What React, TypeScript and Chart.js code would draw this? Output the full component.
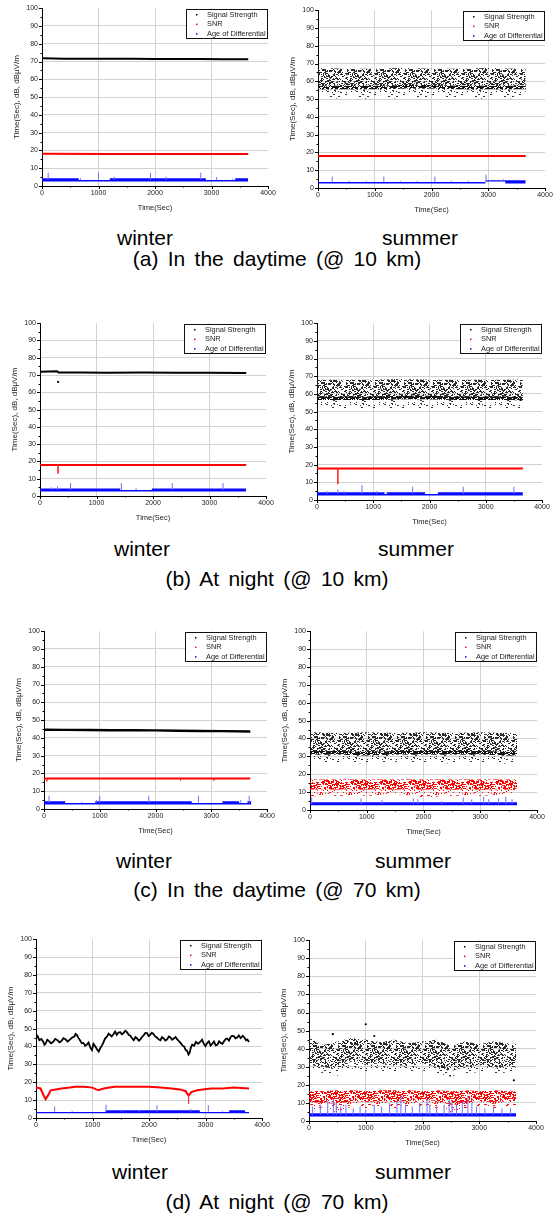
import React, { useEffect, useRef } from 'react';
import { Chart, registerables } from 'chart.js';
Chart.register(...registerables);

const FONT = '"Liberation Sans", Arial, Helvetica, sans-serif';

// ---------- text ----------
const xTitle = 'Time(Sec)';
const yTitle = 'Time(Sec), dB, dBμV/m';
const legendLabels = ['Signal Strength', 'SNR', 'Age of Differential'];
const legendColors = ['#000000', '#ff0000', '#0000ff'];
const seasonLabels = ['winter', 'summer'];
const rowCaptions = [
  '(a) In the daytime (@ 10 km)',
  '(b) At night (@ 10 km)',
  '(c) In the daytime (@ 70 km)',
  '(d) At night (@ 70 km)',
];
const xMin = 0, xMax = 4000, xStep = 1000;
const yMin = 0, yMax = 100, yStep = 10;

// ---------- (a) daytime @10 km, winter ----------
const aWinterSigT = [0, 400, 800, 1200, 1600, 2000, 2400, 2800, 3200, 3650];
const aWinterSigV = [71.9, 71.6, 71.5, 71.5, 71.5, 71.4, 71.4, 71.4, 71.3, 71.3];
const aWinterSnrT = [0, 1200, 2400, 3650];
const aWinterSnrV = [18.1, 18, 18, 18];
const aWinterAgeT = [0, 650, 650, 1200, 1200, 2900, 2900, 3420, 3420, 3650];
const aWinterAgeHi = [4.4, 4.4, 3.4, 3.4, 4.4, 4.4, 3.4, 3.4, 4.4, 4.4];
const aWinterAgeLo = [2.6, 2.6, 2.6, 2.6, 2.6, 2.6, 2.6, 2.6, 2.6, 2.6];
const aWinterSpikeT = [110, 680, 1000, 1280, 1920, 2190, 2810, 3090, 3380];
const aWinterSpikeTop = [7.5, 4.5, 7.5, 5.2, 7.3, 5.2, 7.5, 5, 4.2];

// ---------- (a) daytime @10 km, summer ----------
const aSummerSigT = [0, 500, 1000, 1500, 2000, 2500, 3000, 3500, 3660];
const aSummerSigHi = [67.5, 67, 67, 67.5, 67, 67, 67.5, 67, 67];
const aSummerSigCore = [57.5, 57.5, 57.5, 58, 58, 57.5, 57.5, 57.5, 57.5];
const aSummerSigLo = [55.5, 55.5, 55.5, 56, 56, 55.5, 55.5, 55.5, 55.5];
const aSummerSigSparse = [50, 50.5, 50, 50.5, 51, 50.5, 50, 50.5, 50];
const aSummerSnrT = [0, 1200, 2400, 3660];
const aSummerSnrV = [18, 18, 18, 18];
const aSummerAgeT = [0, 2950, 2950, 3300, 3300, 3660];
const aSummerAgeHi = [3.4, 3.4, 4.4, 4.4, 4.4, 4.4];
const aSummerAgeLo = [2.6, 2.6, 3.6, 3.6, 2.6, 2.6];
const aSummerSpikeT = [250, 550, 850, 1160, 1450, 1750, 2060, 2350, 2650, 2960, 3270];
const aSummerSpikeTop = [6.5, 4, 4, 6.5, 4, 4, 6.5, 4, 4, 7.5, 5];

// ---------- (b) night @10 km, winter ----------
const bWinterSigT = [0, 300, 330, 700, 1200, 1800, 2400, 3000, 3650];
const bWinterSigV = [71.9, 72.2, 71.4, 71.4, 71.3, 71.4, 71.3, 71.3, 71.2];
const bWinterSigOutT = [320];
const bWinterSigOutV = [66];
const bWinterSnrT = [0, 1200, 2400, 3650];
const bWinterSnrV = [18, 18, 18, 18];
const bWinterSnrDipT = [320];
const bWinterSnrDipFrom = [18];
const bWinterSnrDipTo = [13];
const bWinterAgeT = [0, 1420, 1420, 1980, 1980, 3650];
const bWinterAgeHi = [4.4, 4.4, 3.4, 3.4, 4.4, 4.4];
const bWinterAgeLo = [2.6, 2.6, 2.6, 2.6, 2.6, 2.6];
const bWinterSpikeT = [200, 310, 540, 1440, 1700, 2340, 3240];
const bWinterSpikeTop = [5, 5.5, 7.5, 7.5, 4.5, 7.5, 7.5];

// ---------- (b) night @10 km, summer ----------
const bSummerSigT = [0, 500, 1000, 1500, 2000, 2500, 3000, 3500, 3660];
const bSummerSigHi = [68, 68, 68, 68.5, 68, 68, 68, 68, 68.5];
const bSummerSigCore = [58.5, 58.5, 58.5, 59, 59, 58.5, 58.5, 58.5, 58];
const bSummerSigLo = [56.5, 56.5, 56.5, 57, 57, 56.5, 56.5, 56.5, 56];
const bSummerSigSparse = [51.5, 51.5, 51.5, 52, 52, 51.5, 51.5, 51.5, 50.5];
const bSummerSnrT = [0, 1200, 2400, 3660];
const bSummerSnrV = [17.8, 17.8, 17.8, 17.8];
const bSummerSnrDipT = [370];
const bSummerSnrDipFrom = [17.8];
const bSummerSnrDipTo = [9];
const bSummerAgeT = [0, 1200, 1200, 1240, 1240, 1920, 1920, 2150, 2150, 3660];
const bSummerAgeHi = [4.4, 4.4, 3.4, 3.4, 4.4, 4.4, 3.4, 3.4, 4.4, 4.4];
const bSummerAgeLo = [2.6, 2.6, 2.6, 2.6, 2.6, 2.6, 2.6, 2.6, 2.6, 2.6];
const bSummerSpikeT = [180, 370, 480, 800, 1060, 1700, 2600, 3500];
const bSummerSpikeTop = [5, 6, 5, 8.5, 5, 7.5, 7.5, 7.5];

// ---------- (c) daytime @70 km, winter ----------
const cWinterSigT = [0, 400, 800, 1200, 1600, 2000, 2400, 2800, 3200, 3700];
const cWinterSigV = [44.6, 44.5, 44.4, 44.3, 44.3, 44.2, 44, 43.9, 43.8, 43.6];
const cWinterSnrT = [0, 1200, 2400, 3700];
const cWinterSnrV = [17.2, 17.2, 17.2, 17.1];
const cWinterSnrDipT = [50, 2450, 3050];
const cWinterSnrDipFrom = [17, 17, 17];
const cWinterSnrDipTo = [15.5, 16, 16];
const cWinterAgeT = [0, 380, 380, 920, 920, 2650, 2650, 3200, 3200, 3500, 3500, 3650, 3650, 3720];
const cWinterAgeHi = [4.4, 4.4, 3.4, 3.4, 4.4, 4.4, 3.4, 3.4, 4.4, 4.4, 3.4, 3.4, 4.4, 4.4];
const cWinterAgeLo = [2.6, 2.6, 2.6, 2.6, 2.6, 2.6, 2.6, 2.6, 2.6, 2.6, 2.6, 2.6, 2.6, 2.6];
const cWinterSpikeT = [90, 680, 940, 1000, 1880, 2770, 3530, 3680];
const cWinterSpikeTop = [7.5, 4, 5, 7.5, 7.5, 7.5, 5, 7.5];

// ---------- (c) daytime @70 km, summer ----------
const cSummerT = [0, 500, 1000, 1500, 2000, 2500, 3000, 3500, 3650];
const cSummerSigHi = [43.5, 43, 43.5, 43, 43.5, 43, 43.5, 43, 43];
const cSummerSigCore = [33, 33, 32.5, 33, 33, 33, 33, 32.5, 32.5];
const cSummerSigLo = [31, 31, 30.5, 31, 31, 31, 31, 30.5, 30.5];
const cSummerSigSparse = [26, 26.5, 26, 27, 26.5, 26, 26.5, 26, 26];
const cSummerSnrHi = [17, 17, 17, 17, 17, 17, 17, 17, 17];
const cSummerSnrLo = [11.5, 11.5, 11.5, 11.5, 11.5, 11.5, 11.5, 11.5, 12];
const cSummerSnrSparse = [7.5, 8, 8, 8.5, 7, 8, 8, 8.5, 10];
const cSummerAgeT = [0, 3650];
const cSummerAgeHi = [4.4, 4.4];
const cSummerAgeLo = [2.6, 2.6];
const cSummerSpikeT = [30, 900, 1270, 1820, 1900, 2320, 2700, 2850, 3060, 3150, 3320, 3450, 3560];
const cSummerSpikeTop = [7, 6.5, 5.5, 6.5, 6, 5, 7, 6, 7.5, 6, 6.5, 7.5, 6];

// ---------- (d) night @70 km, winter ----------
const dWinterSigT = [0, 30, 60, 95, 130, 150, 170, 200, 230, 265, 300, 340, 380, 415, 450, 485, 520, 560, 600, 640,
  680, 700, 723, 750, 779, 810, 840, 870, 898, 930, 960, 990, 1018, 1050, 1080, 1110, 1137, 1165, 1190, 1220,
  1255, 1285, 1310, 1340, 1374, 1400, 1430, 1460, 1492, 1520, 1550, 1580, 1610, 1640, 1670, 1700, 1729, 1760, 1790, 1820,
  1847, 1875, 1900, 1935, 1966, 1995, 2020, 2050, 2084, 2110, 2140, 2170, 2202, 2230, 2260, 2290, 2321, 2350, 2380, 2410,
  2439, 2470, 2500, 2530, 2558, 2590, 2620, 2650, 2676, 2700, 2720, 2740, 2765, 2800, 2830, 2870, 2913, 2940, 2970, 3000,
  3032, 3060, 3090, 3120, 3150, 3180, 3210, 3240, 3268, 3300, 3330, 3360, 3387, 3415, 3440, 3470, 3505, 3530, 3560, 3590,
  3624, 3660, 3690, 3715, 3742, 3770];
const dWinterSigV = [44.5, 45.8, 43.5, 44.2, 42.5, 41, 41.5, 43.8, 43, 41.8, 42.5, 44.2, 43.5, 42.3, 43, 44.6, 44, 42.8, 43.8, 45,
  45.5, 47, 46.5, 44.8, 43.5, 41.8, 42, 40.3, 41, 42.2, 39.5, 38, 41.5, 40, 38.5, 37.2, 39, 40.5, 42, 44.3,
  45.5, 47.2, 46.5, 45.6, 47, 48.3, 46.5, 47.8, 48, 46.8, 47.5, 48.8, 48, 46.5, 46, 44.6, 43.5, 45.2, 44.5, 43.2,
  44, 45.3, 46, 47.6, 47.5, 45.8, 46.5, 47.7, 46.8, 45.5, 45, 44, 43.5, 45.2, 44.5, 43.3, 44, 45.6, 45, 43.8,
  44.5, 45.3, 44, 43, 42, 40.6, 40, 38, 37.5, 35.5, 36.5, 39.2, 41, 40.5, 42.5, 41.5, 42.8, 43.8, 41.5, 40.2,
  42, 42.9, 40.5, 41.6, 42.8, 40.6, 41, 42.9, 42, 41.5, 43, 44.2, 44.3, 43.3, 45, 46, 45.7, 44.5, 45, 46.2,
  44.7, 46, 45, 43.5, 43.8, 42.5];
const dWinterSnrT = [0, 80, 130, 170, 210, 260, 350, 450, 600, 700, 850, 1000, 1100, 1200, 1300, 1400, 1600, 1800, 2000,
  2200, 2400, 2550, 2650, 2700, 2750, 2850, 2950, 3100, 3300, 3500, 3770];
const dWinterSnrV = [17, 16.5, 13, 10.5, 12.5, 15.5, 16, 16.5, 17, 17.5, 17.5, 17, 15.5, 16.5, 17, 17.5, 17.5, 17.5, 17.5,
  17, 16.5, 16, 15, 12.5, 14.5, 15.5, 16, 16.5, 16.5, 17, 16.5];
const dWinterSnrDipT = [2700];
const dWinterSnrDipFrom = [13];
const dWinterSnrDipTo = [8];
const dWinterAgeT = [0, 1230, 1230, 2900, 2900, 3420, 3420, 3700, 3700, 3770];
const dWinterAgeHi = [3.4, 3.4, 4.4, 4.4, 3.4, 3.4, 4.4, 4.4, 3.4, 3.4];
const dWinterAgeLo = [2.6, 2.6, 2.6, 2.6, 2.6, 2.6, 2.6, 2.6, 2.6, 2.6];
const dWinterSpikeT = [330, 640, 1240, 1520, 1830, 2140, 2740, 3050, 3300];
const dWinterSpikeTop = [6.5, 4, 7.5, 4, 4.5, 7.2, 5, 7.2, 4];

// ---------- (d) night @70 km, summer ----------
const dSummerT = [0, 250, 500, 750, 1000, 1250, 1500, 1750, 2000, 2250, 2500, 2750, 3000, 3250, 3500, 3650];
const dSummerSigHi = [46, 42, 44, 46, 45, 43.5, 45, 43, 44, 45, 41.5, 44, 42.5, 44, 43, 42.5];
const dSummerSigLo = [31, 30, 28.5, 33, 31, 32, 30.5, 31, 32, 30, 27.5, 30, 31, 29.5, 30, 29.5];
const dSummerSigSparse = [28, 26.5, 25, 29, 27, 28, 27, 27.5, 28, 26.5, 24.5, 26.5, 27, 26, 27, 26.5];
const dSummerSigOutT = [420, 1000, 1150, 3610];
const dSummerSigOutV = [48, 53.5, 47, 22.5];
const dSummerSnrHi = [17, 16.5, 17, 17, 16.5, 17, 17, 17, 16.5, 17, 16.5, 17, 16.5, 17, 16.5, 16.5];
const dSummerSnrLo = [10.5, 10, 9.5, 11, 10.5, 11, 10.5, 11, 11.5, 11, 9, 10, 11, 10.5, 11, 11];
const dSummerSnrSparse = [7, 6, 5, 8, 7, 8, 7, 8, 8, 7, 5, 6, 8, 7, 8, 8];
const dSummerAgeT = [0, 3650];
const dSummerAgeHi = [4.3, 4.3];
const dSummerAgeLo = [2.5, 2.5];
const dSummerSpikeT = [60, 200, 330, 430, 480, 560, 650, 780, 900, 1000, 1150, 1280, 1420, 1550, 1620, 1700, 1820,
  1950, 2080, 2130, 2250, 2380, 2470, 2520, 2600, 2700, 2800, 2870, 2950, 3100, 3250, 3400, 3550];
const dSummerSpikeTop = [8, 9, 11, 12, 10, 8, 9, 7, 8, 6, 9, 8, 10, 11, 14, 9, 8,
  10, 12, 9, 8, 9, 12, 10, 9, 11, 14, 10, 8, 7, 8, 7, 7];

// ---------- panel specs ----------
type Arr = number[];
type Spec = {
  sigLine?: [Arr, Arr];
  sigBand?: [Arr, Arr, Arr, Arr];
  sigCore?: Arr;
  sigOut?: [Arr, Arr];
  snrLine?: [Arr, Arr];
  snrBand?: [Arr, Arr, Arr, Arr];
  snrDip?: [Arr, Arr, Arr];
  age: [Arr, Arr, Arr];
  spikes: [Arr, Arr];
  lineW?: number;
};

const specs: Spec[] = [
  { sigLine: [aWinterSigT, aWinterSigV], snrLine: [aWinterSnrT, aWinterSnrV], age: [aWinterAgeT, aWinterAgeHi, aWinterAgeLo], spikes: [aWinterSpikeT, aWinterSpikeTop] },
  { sigBand: [aSummerSigT, aSummerSigHi, aSummerSigLo, aSummerSigSparse], sigCore: aSummerSigCore, snrLine: [aSummerSnrT, aSummerSnrV], age: [aSummerAgeT, aSummerAgeHi, aSummerAgeLo], spikes: [aSummerSpikeT, aSummerSpikeTop] },
  { sigLine: [bWinterSigT, bWinterSigV], sigOut: [bWinterSigOutT, bWinterSigOutV], snrLine: [bWinterSnrT, bWinterSnrV], snrDip: [bWinterSnrDipT, bWinterSnrDipFrom, bWinterSnrDipTo], age: [bWinterAgeT, bWinterAgeHi, bWinterAgeLo], spikes: [bWinterSpikeT, bWinterSpikeTop] },
  { sigBand: [bSummerSigT, bSummerSigHi, bSummerSigLo, bSummerSigSparse], sigCore: bSummerSigCore, snrLine: [bSummerSnrT, bSummerSnrV], snrDip: [bSummerSnrDipT, bSummerSnrDipFrom, bSummerSnrDipTo], age: [bSummerAgeT, bSummerAgeHi, bSummerAgeLo], spikes: [bSummerSpikeT, bSummerSpikeTop] },
  { sigLine: [cWinterSigT, cWinterSigV], snrLine: [cWinterSnrT, cWinterSnrV], snrDip: [cWinterSnrDipT, cWinterSnrDipFrom, cWinterSnrDipTo], age: [cWinterAgeT, cWinterAgeHi, cWinterAgeLo], spikes: [cWinterSpikeT, cWinterSpikeTop], lineW: 2.4 },
  { sigBand: [cSummerT, cSummerSigHi, cSummerSigLo, cSummerSigSparse], sigCore: cSummerSigCore, snrBand: [cSummerT, cSummerSnrHi, cSummerSnrLo, cSummerSnrSparse], age: [cSummerAgeT, cSummerAgeHi, cSummerAgeLo], spikes: [cSummerSpikeT, cSummerSpikeTop] },
  { sigLine: [dWinterSigT, dWinterSigV], snrLine: [dWinterSnrT, dWinterSnrV], snrDip: [dWinterSnrDipT, dWinterSnrDipFrom, dWinterSnrDipTo], age: [dWinterAgeT, dWinterAgeHi, dWinterAgeLo], spikes: [dWinterSpikeT, dWinterSpikeTop], lineW: 1.8 },
  { sigBand: [dSummerT, dSummerSigHi, dSummerSigLo, dSummerSigSparse], sigOut: [dSummerSigOutT, dSummerSigOutV], snrBand: [dSummerT, dSummerSnrHi, dSummerSnrLo, dSummerSnrSparse], age: [dSummerAgeT, dSummerAgeHi, dSummerAgeLo], spikes: [dSummerSpikeT, dSummerSpikeTop] },
];

// ---------- layout (plot area: left, right, top, bottom in page px) ----------
const geoms: [number, number, number, number][] = [
  [42, 268, 8, 186], [318, 545, 10, 188],
  [40, 266, 323, 496], [317, 542, 323, 500],
  [44, 267, 631, 809], [310, 537, 631, 810],
  [36, 262, 939, 1118], [309, 536, 940, 1121],
];
const seasonPos: [number, number][][] = [
  [[145, 238], [420, 238]],
  [[142, 549], [416, 549]],
  [[144, 861], [413, 861]],
  [[140, 1172], [413, 1172]],
];
const captionY = [259, 579, 890, 1202];

const PAD_L = 40, PAD_T = 8, PAD_R = 14, PAD_B = 30;
const AGE_BASE = 3.5;

// speckle texture used to mimic dense point clouds (deterministic hash)
function makeSpeckle(ctx: CanvasRenderingContext2D, color: string, pct: number, seed: number) {
  const w = 29, h = 23;
  const c = document.createElement('canvas');
  c.width = w; c.height = h;
  const g = c.getContext('2d')!;
  g.fillStyle = color;
  for (let y = 0; y < h; y++) {
    for (let x = 0; x < w; x++) {
      let k = Math.imul(x + 1, 374761393) + Math.imul(y + 1, 668265263) + Math.imul(seed, 2246822519);
      k = Math.imul(k ^ (k >>> 13), 1274126177);
      k = (k ^ (k >>> 16)) >>> 0;
      if (k % 100 < pct) g.fillRect(x, y, (k >> 8) % 3 === 0 ? 2 : 1, 1);
    }
  }
  return ctx.createPattern(c, 'repeat')!;
}

function buildDatasets(spec: Spec, ctx: CanvasRenderingContext2D) {
  const blackCore = makeSpeckle(ctx, '#111111', 55, 3);
  const blackDense = makeSpeckle(ctx, '#2a2a2a', 32, 1);
  const blackSparse = makeSpeckle(ctx, '#333333', 7, 2);
  const redDense = makeSpeckle(ctx, '#ff0000', 40, 4);
  const redSparse = makeSpeckle(ctx, '#ff1010', 9, 5);
  const ds: any[] = [];
  const pts = (t: Arr, v: Arr) => t.map((x, i) => ({ x, y: v[i] }));
  const edge = (t: Arr, v: Arr) => ({ data: pts(t, v), borderWidth: 0, borderColor: 'rgba(0,0,0,0)', pointRadius: 0, fill: false });
  const band = (t: Arr, hi: Arr, lo: Arr, bg: any) => {
    ds.push(edge(t, hi));
    ds.push({ ...edge(t, lo), fill: '-1', backgroundColor: bg });
  };
  const line = (t: Arr, v: Arr, color: string, w: number) =>
    ds.push({ data: pts(t, v), borderColor: color, borderWidth: w, pointRadius: 0, fill: false });
  const segs = (t: Arr, from: Arr, to: Arr, color: string, w: number) => {
    const d: any[] = [];
    t.forEach((x, i) => { d.push({ x, y: from[i] }, { x, y: to[i] }, { x, y: null }); });
    ds.push({ data: d, borderColor: color, borderWidth: w, pointRadius: 0, fill: false, spanGaps: false });
  };
  const dots = (t: Arr, v: Arr, color: string) =>
    ds.push({ data: pts(t, v), showLine: false, pointRadius: 1.1, pointBorderWidth: 0, pointBackgroundColor: color, borderColor: color });

  // age of differential (on top)
  segs(spec.spikes[0], spec.spikes[0].map(() => AGE_BASE), spec.spikes[1], '#6f6fff', 1);
  band(spec.age[0], spec.age[1], spec.age[2], '#0a0aff');
  // SNR
  if (spec.snrDip) segs(spec.snrDip[0], spec.snrDip[1], spec.snrDip[2], '#ff3030', 1);
  if (spec.snrLine) line(spec.snrLine[0], spec.snrLine[1], '#ff0000', 2);
  if (spec.snrBand) {
    const [t, hi, lo, sp] = spec.snrBand;
    band(t, hi, lo, redDense);
    ds.push({ ...edge(t, sp), fill: '-1', backgroundColor: redSparse });
  }
  // Signal strength
  if (spec.sigOut) dots(spec.sigOut[0], spec.sigOut[1], '#000000');
  if (spec.sigLine) line(spec.sigLine[0], spec.sigLine[1], '#000000', spec.lineW ?? 2);
  if (spec.sigBand) {
    const [t, hi, lo, sp] = spec.sigBand;
    if (spec.sigCore) band(t, spec.sigCore, lo, blackCore);
    band(t, hi, lo, blackDense);
    ds.push({ ...edge(t, sp), fill: '-1', backgroundColor: blackSparse });
  }
  return ds;
}

const boxLegend = {
  id: 'boxLegend',
  afterDraw(chart: any) {
    const { ctx, chartArea } = chart;
    const w = 82, h = 30;
    const x0 = Math.round(chartArea.right - w), y0 = Math.round(chartArea.top + 1);
    ctx.save();
    ctx.fillStyle = '#ffffff';
    ctx.fillRect(x0, y0, w, h);
    ctx.strokeStyle = '#111111';
    ctx.lineWidth = 1;
    ctx.strokeRect(x0 + 0.5, y0 + 0.5, w - 1, h - 1);
    ctx.font = `7.4px ${FONT}`;
    ctx.textBaseline = 'middle';
    legendLabels.forEach((lab, i) => {
      const cy = y0 + 5.5 + i * 9.6;
      ctx.fillStyle = legendColors[i];
      ctx.fillRect(x0 + 10, cy - 0.5, 1.5, 1.5);
      ctx.fillStyle = '#222222';
      ctx.fillText(lab, x0 + 21, cy);
    });
    ctx.restore();
  },
};

const axisTicks = {
  id: 'axisTicks',
  afterDraw(chart: any) {
    const { ctx, chartArea, scales } = chart;
    ctx.save();
    ctx.strokeStyle = '#000000';
    ctx.lineWidth = 1;
    ctx.beginPath();
    for (let v = yMin; v <= yMax; v += yStep / 2) {
      const py = Math.round(scales.y.getPixelForValue(v)) + 0.5;
      const len = v % yStep === 0 ? 3 : 1.5;
      ctx.moveTo(chartArea.left - len, py);
      ctx.lineTo(chartArea.left, py);
    }
    for (let v = xMin; v <= xMax; v += xStep / 2) {
      const px = Math.round(scales.x.getPixelForValue(v)) + 0.5;
      const len = v % xStep === 0 ? 3 : 1.5;
      ctx.moveTo(px, chartArea.bottom);
      ctx.lineTo(px, chartArea.bottom + len);
    }
    ctx.stroke();
    ctx.restore();
  },
};

function Panel({ spec, geom }: { spec: Spec; geom: [number, number, number, number] }) {
  const ref = useRef<HTMLCanvasElement>(null);
  const [L, R, T, B] = geom;
  const w = R - L + PAD_L + PAD_R;
  const h = B - T + PAD_T + PAD_B;
  useEffect(() => {
    const canvas = ref.current!;
    const ctx = canvas.getContext('2d')!;
    const gridColor = (c: any) => {
      const v = c.tick ? c.tick.value : null;
      return v === xMin || v === xMax || v === yMax ? 'rgba(0,0,0,0)' : '#d2d2d2';
    };
    const plain = (v: any) => String(v);
    const chart = new Chart(canvas, {
      type: 'line',
      data: { datasets: buildDatasets(spec, ctx) },
      options: {
        responsive: false,
        animation: false,
        events: [],
        layout: { padding: { top: PAD_T, right: PAD_R, left: 0, bottom: 0 } },
        plugins: { legend: { display: false }, tooltip: { enabled: false } },
        scales: {
          x: {
            type: 'linear', min: xMin, max: xMax,
            afterFit: (s: any) => { s.height = PAD_B; },
            ticks: { stepSize: xStep, callback: plain, font: { family: FONT, size: 7 }, color: '#222222', padding: 3, maxRotation: 0, autoSkip: false },
            grid: { color: gridColor, drawTicks: false, lineWidth: 1 },
            border: { color: '#000000', width: 1 },
            title: { display: true, text: xTitle, font: { family: FONT, size: 7.5 }, color: '#222222', padding: { top: 0, bottom: 3.5 } },
          },
          y: {
            type: 'linear', min: yMin, max: yMax,
            afterFit: (s: any) => { s.width = PAD_L; },
            ticks: { stepSize: yStep, callback: plain, font: { family: FONT, size: 7 }, color: '#222222', padding: 4 },
            grid: { color: gridColor, drawTicks: false, lineWidth: 1 },
            border: { color: '#000000', width: 1 },
            title: { display: true, text: yTitle, font: { family: FONT, size: 8 }, color: '#222222', padding: { top: 10, bottom: 0 } },
          },
        },
      } as any,
      plugins: [axisTicks, boxLegend],
    });
    return () => chart.destroy();
  }, []);
  return (
    <canvas
      ref={ref}
      width={w}
      height={h}
      style={{ position: 'absolute', left: L - PAD_L, top: T - PAD_T, width: w, height: h, display: 'block' }}
    />
  );
}

const textStyle = (cx: number, cy: number): React.CSSProperties => ({
  position: 'absolute', left: cx - 200, width: 400, top: cy - 12, height: 24, lineHeight: '24px',
  textAlign: 'center', fontSize: 21, fontFamily: FONT, color: '#000', wordSpacing: 3.5, whiteSpace: 'nowrap',
});

export default function App() {
  return (
    <div style={{ position: 'absolute', left: 0, top: 0, width: 554, height: 1217, background: '#ffffff', overflow: 'hidden' }}>
      {specs.map((s, i) => <Panel key={i} spec={s} geom={geoms[i]} />)}
      {seasonPos.map((row, r) => row.map(([cx, cy], k) => (
        <div key={`s${r}${k}`} style={textStyle(cx, cy)}>{seasonLabels[k]}</div>
      )))}
      {rowCaptions.map((c, r) => <div key={`c${r}`} style={textStyle(277, captionY[r])}>{c}</div>)}
    </div>
  );
}
